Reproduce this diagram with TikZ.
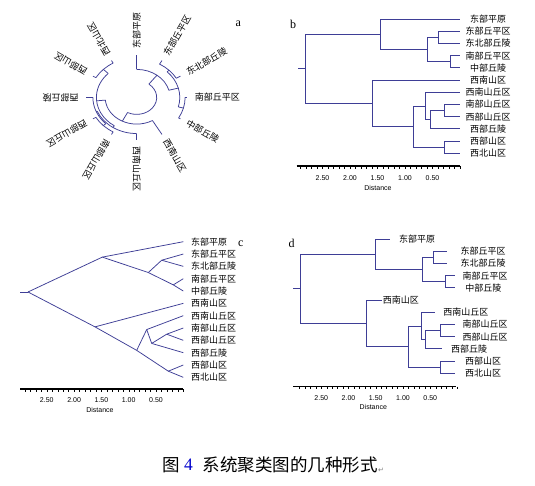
\documentclass[tikz,border=0pt]{standalone}
\usepackage{fontspec}
\setmainfont{Liberation Serif}
\newfontfamily\cjk{Noto Sans CJK SC}
\newfontfamily\arialf{Liberation Sans}
\newfontfamily\dvs{DejaVu Sans}
\definecolor{treeblue}{RGB}{62,62,150}
\begin{document}
\begin{tikzpicture}[x=1pt,y=-1pt,
  tr/.style={draw=treeblue, line width=0.75pt},
  lb/.style={font=\cjk\fontsize{9}{9}\selectfont, inner sep=0pt},
  axl/.style={font=\arialf\fontsize{7}{7}\selectfont, inner sep=0pt},
  pl/.style={font=\fontsize{12}{12}\selectfont, inner sep=0pt},
  axisline/.style={draw=black, line width=1.4pt},
  tickmark/.style={draw=black, line width=0.4pt}]
\useasboundingbox[fill=white] (0,0) rectangle (535,485);

% ---------------- panel a (radial) ----------------
\node[pl] (la) at (238.3,23.3) {a};
\begin{scope}[shift={(136.7,97.5)}, yscale=-0.844]
  % leaves: angle / parent radius / label
  \foreach \t/\r/\n [count=\i] in {90/33.3/东部平原, 60/45.7/东部丘平区, 30/45.7/东北部丘陵,
      0/48.4/南部丘平区, -30/48.4/中部丘陵, -60/31.5/西南山区, -90/42.7/西南山丘区,
      -120/47.1/南部山丘区, -150/47.1/西部山丘区, -180/43.8/西部丘陵,
      -210/47.1/西部山区, -240/47.1/西北山区}{
    \coordinate (aL\i) at (\t:50.5);
    \coordinate (aP\i) at (\t:\r);
    \draw[tr] (aP\i) -- (aL\i);
    \node[lb, rotate=\t, anchor=west] (aT\i) at (\t:58) {\n};
  }
  % internal radial segments: angle / inner radius / outer radius
  \foreach \t/\ri/\ro [count=\i] in {52.5/20/33.3, 15/33.3/43.1, 45/43.1/45.7, -15/43.1/48.4,
      -117.19/20/31.5, -174.375/31.5/40.3, -123.75/40.3/42.7, -225/40.3/47.1,
      -157.5/42.7/43.8, -135/43.8/47.1}{
    \coordinate (aI\i) at (\t:\ri);
    \coordinate (aO\i) at (\t:\ro);
    \draw[tr] (aI\i) -- (aO\i);
  }
  % arcs: start / end / radius
  \foreach \s/\e/\r in {52.5/-117.19/20, 90/15/33.3, 45/-15/43.1, 60/30/45.7, 0/-30/48.4,
      -60/-174.375/31.5, -123.75/-225/40.3, -90/-157.5/42.7, -135/-180/43.8,
      -120/-150/47.1, -210/-240/47.1}{
    \draw[tr] (\s:\r) arc[start angle=\s, end angle=\e, radius=\r];
  }
\end{scope}

% ---------------- panel b (rectangular) ----------------
\node[pl] (lb) at (293,24) {b};
\coordinate (bS) at (298,68.75);
\coordinate (bR) at (305,68.75);
\coordinate (bA) at (380,34.25);
\coordinate (bA2) at (427,49.5);
\coordinate (bA21) at (438,37.3);
\coordinate (bA22) at (450,61.7);
\coordinate (bB) at (372,103.26);
\coordinate (bB2) at (413,126.51);
\coordinate (bB21) at (425,105.93);
\coordinate (bB211) at (430,119.65);
\coordinate (bB2111) at (444,110.5);
\coordinate (bB22) at (444,147.1);
\foreach \n [count=\i] in {东部平原,东部丘平区,东北部丘陵,南部丘平区,中部丘陵,西南山区,
    西南山丘区,南部山丘区,西部山丘区,西部丘陵,西部山区,西北山区}{
  \coordinate (bL\i) at (460,{19+12.2*(\i-1)});
  \node[lb] (bT\i) at (488,{19+12.2*(\i-1)}) {\n};
}
\draw[tr] (bS) -- (bR);
\foreach \p/\c in {R/A,R/B,A/L1,A/A2,A2/A21,A2/A22,A21/L2,A21/L3,A22/L4,A22/L5,
    B/L6,B/B2,B2/B21,B2/B22,B21/L7,B21/B211,B211/B2111,B211/L10,B2111/L8,B2111/L9,
    B22/L11,B22/L12}{
  \draw[tr] (b\p) |- (b\c);
}
\coordinate (bX0) at (296.7,166);
\coordinate (bX1) at (460,166);
\draw[axisline] (bX0) -- (bX1);
\foreach \v in {0,...,29}{\draw[tickmark] ({460-5.5*\v},166) -- ++(0,2.5);}
\foreach \v in {0.50,1.00,1.50,2.00,2.50}{\node[axl] at ({460-55*\v},178) {\v};}
\node[axl] (bD) at (378,188) {Distance};

% ---------------- panel c (slanted) ----------------
\node[pl] (lc) at (240.7,244) {c};
\coordinate (cS) at (20,291.98);
\coordinate (cR) at (28,291.98);
\coordinate (cA) at (102.3,257.11);
\coordinate (cA2) at (148.3,272.53);
\coordinate (cA21) at (161.7,260.2);
\coordinate (cA22) at (173.3,284.86);
\coordinate (cB) at (95,326.86);
\coordinate (cB2) at (136.7,350.36);
\coordinate (cB21) at (146.7,329.55);
\coordinate (cB211) at (151.7,343.42);
\coordinate (cB2111) at (166.7,334.18);
\coordinate (cB22) at (168.3,371.17);
\foreach \n [count=\i] in {东部平原,东部丘平区,东北部丘陵,南部丘平区,中部丘陵,西南山区,
    西南山丘区,南部山丘区,西部山丘区,西部丘陵,西部山区,西北山区}{
  \coordinate (cL\i) at (183.3,{241.7+12.33*(\i-1)});
  \node[lb, anchor=west] (cT\i) at (191,{241.7+12.33*(\i-1)}) {\n};
}
\draw[tr] (cS) -- (cR);
\foreach \p/\c in {R/A,R/B,A/L1,A/A2,A2/A21,A2/A22,A21/L2,A21/L3,A22/L4,A22/L5,
    B/L6,B/B2,B2/B21,B2/B22,B21/L7,B21/B211,B211/B2111,B211/L10,B2111/L8,B2111/L9,
    B22/L11,B22/L12}{
  \draw[tr] (c\p) -- (c\c);
}
\coordinate (cX0) at (20,389);
\coordinate (cX1) at (183.3,389);
\draw[axisline] (cX0) -- (cX1);
\foreach \v in {0,...,29}{\draw[tickmark] ({183.3-5.46*\v},389) -- ++(0,2.5);}
\foreach \v in {0.50,1.00,1.50,2.00,2.50}{\node[axl] at ({183.3-54.6*\v},400) {\v};}
\node[axl] (cD) at (100,410) {Distance};

% ---------------- panel d (rectangular, short leaves) ----------------
\node[pl] (ld) at (291.7,243.3) {d};
\coordinate (dS) at (293.3,288.75);
\coordinate (dR) at (300.7,288.75);
\coordinate (dA) at (375,254.25);
\coordinate (dA2) at (422.7,269.5);
\coordinate (dA21) at (433.3,257.3);
\coordinate (dA22) at (445,281.7);
\coordinate (dB) at (366.7,323.26);
\coordinate (dB2) at (408.3,346.51);
\coordinate (dB21) at (421.7,325.93);
\coordinate (dB211) at (425.7,339.65);
\coordinate (dB2111) at (440,330.5);
\coordinate (dB22) at (440.7,367.1);
\foreach \n/\xt/\xl [count=\i] in {东部平原/390/417, 东部丘平区/446.7/483, 东北部丘陵/446.7/483,
    南部丘平区/455/485, 中部丘陵/455/483.3, 西南山区/381.7/400.8, 西南山丘区/435/465.8,
    南部山丘区/455/485, 西部山丘区/455/485, 西部丘陵/441.7/469, 西部山区/455/483,
    西北山区/455/483}{
  \coordinate (dL\i) at (\xt,{239+12.2*(\i-1)});
  \node[lb] (dT\i) at (\xl,{239+12.2*(\i-1)}) {\n};
}
\draw[tr] (dS) -- (dR);
\foreach \p/\c in {R/A,R/B,A/L1,A/A2,A2/A21,A2/A22,A21/L2,A21/L3,A22/L4,A22/L5,
    B/L6,B/B2,B2/B21,B2/B22,B21/L7,B21/B211,B211/B2111,B211/L10,B2111/L8,B2111/L9,
    B22/L11,B22/L12}{
  \draw[tr] (d\p) |- (d\c);
}
\coordinate (dX0) at (293.3,386.7);
\coordinate (dX1) at (456,386.7);
\draw[axisline] (dX0) -- (dX1);
\foreach \v in {0,...,29}{\draw[tickmark] ({457.5-5.45*\v},386.7) -- ++(0,2.5);}
\foreach \v in {0.50,1.00,1.50,2.00,2.50}{\node[axl] at ({457.5-54.5*\v},398.3) {\v};}
\node[axl] (dD) at (373.3,407.3) {Distance};

% ---------------- caption ----------------
\node[font=\cjk\fontsize{17.5}{17.5}\selectfont, inner sep=0pt] (cap1) at (170.8,465) {图};
\node[font=\fontsize{17.5}{17.5}\selectfont, text=blue!80!black, inner sep=0pt] (cap2) at (188.5,465) {4};
\node[font=\cjk\fontsize{17.5}{17.5}\selectfont, inner sep=0pt, anchor=west] (cap3) at (202.5,465) {系统聚类图的几种形式};
\node[font=\dvs\fontsize{7}{7}\selectfont, text=gray, inner sep=0pt, anchor=south west] (cap4) at ([yshift=-1pt]cap3.base east) {↵};
\end{tikzpicture}
\end{document}
